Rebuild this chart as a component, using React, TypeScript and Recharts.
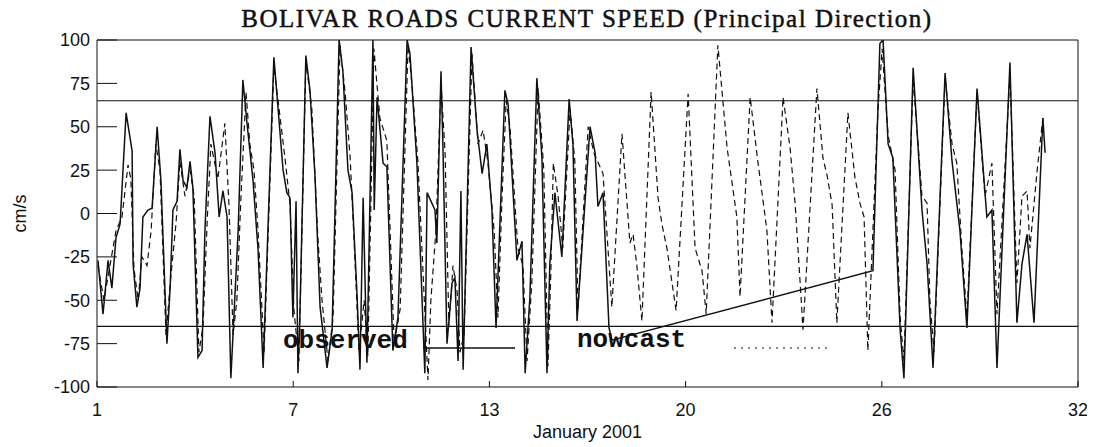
import React from 'react';
import { LineChart, Line, XAxis, YAxis, ReferenceLine, Legend } from 'recharts';

// day of January 2001 (fractional), current speed in cm/s
const observed: [number, number][] = [
  [1.03, -27], [1.19, -58], [1.35, -27], [1.47, -43], [1.6, -14], [1.73, -6], [1.92, 58], [2.11, 36],
  [2.14, -29], [2.26, -54], [2.36, -43], [2.45, -2], [2.61, 2], [2.74, 3], [2.9, 50], [3.02, 19],
  [3.21, -75], [3.31, -43], [3.4, 2], [3.53, 7], [3.62, 37], [3.72, 19], [3.84, 15], [3.94, 30],
  [4.03, 15], [4.19, -83], [4.32, -79], [4.41, -10], [4.57, 56], [4.73, 35], [4.86, -2], [4.98, 13],
  [5.11, -2], [5.23, -95], [5.33, -58], [5.46, -10], [5.61, 77], [5.74, 52], [5.93, 19], [6.09, -21],
  [6.25, -89], [6.59, 90], [6.88, 25], [7.0, 12], [7.1, 9], [7.19, -60], [7.29, 7], [7.35, -92],
  [7.41, -60], [7.6, 91], [7.73, 71], [7.89, 21], [8.05, -54], [8.27, -89], [8.43, -67], [8.65, 100],
  [8.77, 82], [8.93, 25], [9.06, 12], [9.22, -48], [9.31, -90], [9.41, 9], [9.53, -86], [9.72, 100],
  [9.76, 2], [9.85, 67], [10.04, 29], [10.16, 27], [10.35, -79], [10.51, -60], [10.8, 100], [10.89, 92],
  [11.11, 29], [11.36, -92], [11.43, 12], [11.68, 2], [11.74, -17], [11.87, 82], [11.93, 40], [12.06, -75],
  [12.22, -40], [12.31, -37], [12.41, -85], [12.5, 13], [12.57, -90], [12.82, 96], [13.01, 48], [13.17, 23],
  [13.32, 40], [13.48, 2], [13.61, -66], [13.74, -2], [13.89, 71], [13.99, 63], [14.27, -27], [14.43, -16],
  [14.53, -92], [14.68, -48], [14.9, 78], [15.06, 32], [15.22, -92], [15.31, -29], [15.47, 12], [15.69, -25],
  [15.92, 66], [16.04, 40], [16.17, -62], [16.58, 50], [16.74, 35], [16.83, 4], [16.99, 12], [17.18, -66],
  [17.27, -73], [25.52, -33], [25.74, 98], [25.84, 100], [26.0, 40], [26.15, 32], [26.38, -67], [26.5, -95],
  [26.79, 84], [27.07, 2], [27.23, -29], [27.42, -89], [27.8, 81], [28.02, 30], [28.27, -10], [28.49, -66],
  [28.81, 72], [29.12, -2], [29.28, 2], [29.44, -89], [29.85, 87], [30.07, -63], [30.23, -29], [30.39, -12],
  [30.61, -63], [30.89, 55], [30.96, 35],
];

const nowcast: [number, number][] = [
  [1.03, -30], [1.22, -50], [1.41, -30], [1.6, -10], [1.79, -2], [1.98, 28], [2.07, 20], [2.17, -32],
  [2.3, -50], [2.42, -25], [2.58, -30], [2.71, -10], [2.86, 40], [2.99, 25], [3.18, -70], [3.34, -35],
  [3.5, -5], [3.62, 30], [3.78, 10], [3.94, 25], [4.07, 10], [4.22, -80], [4.35, -65], [4.48, -5],
  [4.6, 40], [4.82, 20], [5.04, 52], [5.17, 5], [5.3, -70], [5.42, -50], [5.55, 10], [5.71, 70],
  [5.83, 40], [5.96, 25], [6.09, -10], [6.28, -80], [6.59, 85], [6.94, 32], [7.1, 5], [7.22, -55],
  [7.38, -85], [7.6, 88], [7.79, 60], [7.98, -14], [8.11, -50], [8.3, -85], [8.46, -60], [8.68, 97],
  [8.84, 70], [9.0, 32], [9.12, -14], [9.28, -80], [9.44, -50], [9.56, -82], [9.75, 95], [9.94, 55],
  [10.16, 42], [10.39, -75], [10.58, -55], [10.83, 97], [10.95, 75], [11.14, 30], [11.46, -96], [11.55, -50],
  [11.71, -10], [11.87, 75], [12.0, 35], [12.12, -65], [12.25, -30], [12.38, -45], [12.47, -80], [12.6, -70],
  [12.85, 92], [13.04, 40], [13.2, 48], [13.35, 30], [13.55, -10], [13.67, -60], [13.8, 10], [13.93, 65],
  [14.05, 50], [14.3, -20], [14.46, -30], [14.59, -85], [14.74, -40], [14.94, 72], [15.12, 25], [15.25, -88],
  [15.34, -35], [15.42, 29], [15.57, 10], [15.72, -20], [15.95, 60], [16.1, 30], [16.2, -55], [16.52, 50],
  [16.7, 35], [16.99, 23], [17.27, -54], [17.59, 46], [17.84, -17], [17.94, -12], [18.06, -30], [18.22, -62],
  [18.51, 70], [18.73, 9], [18.85, -6], [19.01, -20], [19.3, -56], [19.68, 69], [19.9, -20], [20.12, -33],
  [20.25, -58], [20.62, 97], [20.91, 38], [21.22, -2], [21.32, -48], [21.64, 67], [21.89, 29], [22.05, 7],
  [22.17, -10], [22.33, -63], [22.68, 67], [22.9, 38], [23.06, 6], [23.22, -40], [23.31, -67], [23.75, 72],
  [23.94, 32], [24.07, 22], [24.23, 5], [24.38, -63], [24.73, 58], [24.95, 21], [25.11, 6], [25.24, -2],
  [25.36, -79], [25.68, 60], [25.81, 95], [26.0, 45], [26.22, 25], [26.38, -60], [26.5, -85], [26.79, 78],
  [27.07, 10], [27.23, 6], [27.32, -50], [27.45, -80], [27.8, 78], [28.02, 40], [28.17, 29], [28.33, -20],
  [28.49, -60], [28.81, 70], [29.06, 10], [29.28, 29], [29.44, -58], [29.85, 80], [30.07, -40], [30.23, 10],
  [30.39, 13], [30.48, -20], [30.71, 25], [30.89, 55],
];

const dayTicks = [1, 7.2, 13.4, 19.6, 25.8, 32];
const speedTicks = [-100, -75, -50, -25, 0, 25, 50, 75, 100];
const innerTicks = [-75, -50, -25, 0, 25, 50, 75];
const limits = [65, -65];

const obsData = observed.map(([day, v]) => ({ day, v }));
const nowData = nowcast.map(([day, v]) => ({ day, v }));

const INK = '#111';
const sans = '"Liberation Sans", Arial, sans-serif';
const mono = '"Liberation Mono", "Courier New", monospace';
const serif = '"Liberation Serif", "Times New Roman", serif';

function LegendBox() {
  return (
    <svg width={560} height={30} style={{ overflow: 'visible' }}>
      <text x={0} y={18} fontFamily={mono} fontWeight="bold" fontSize={26} fill={INK}>observed</text>
      <line x1={140} x2={232} y1={18} y2={18} stroke={INK} strokeWidth={1.5} />
      <text x={294} y={17} fontFamily={mono} fontWeight="bold" fontSize={26} fill={INK}>nowcast</text>
      <line x1={451} x2={547} y1={18} y2={18} stroke={INK} strokeWidth={1} strokeDasharray="2 5" />
    </svg>
  );
}

export default function App() {
  return (
    <div style={{ position: 'relative', width: 1080, height: 439, background: '#fff' }}>
      <div
        style={{
          position: 'absolute', left: 79, top: -2, width: 1000, textAlign: 'center',
          fontFamily: serif, fontSize: 25, lineHeight: '25px', letterSpacing: '1.5px',
          color: INK, WebkitTextStroke: '0.5px #111', whiteSpace: 'nowrap',
        }}
      >
        BOLIVAR ROADS CURRENT SPEED (Principal Direction)
      </div>
      <LineChart width={1080} height={439} margin={{ top: 31, right: 9, bottom: 0, left: 0 }}>
        <XAxis
          xAxisId="b"
          dataKey="day"
          type="number"
          domain={[1, 32]}
          ticks={dayTicks}
          tickFormatter={(d: number) => String(Math.round(d))}
          allowDataOverflow
          height={60}
          tickSize={-6}
          tickMargin={22}
          stroke={INK}
          tick={{ fill: INK, fontSize: 18, fontFamily: sans }}
          label={{ value: 'January 2001', position: 'insideBottom', offset: 9, fill: INK, fontSize: 18, fontFamily: sans }}
        />
        <XAxis
          xAxisId="t"
          orientation="top"
          dataKey="day"
          type="number"
          domain={[1, 32]}
          ticks={dayTicks}
          allowDataOverflow
          height={1}
          tickSize={-6}
          tick={false}
          stroke={INK}
        />
        <YAxis
          yAxisId="l"
          type="number"
          domain={[-100, 100]}
          ticks={speedTicks}
          allowDataOverflow
          width={89}
          tickSize={-20}
          tickMargin={27}
          stroke={INK}
          tick={{ fill: INK, fontSize: 18, fontFamily: sans }}
          label={{ value: 'cm/s', angle: -90, position: 'insideLeft', offset: 12, fill: INK, fontSize: 18, fontFamily: sans, style: { textAnchor: 'middle' } }}
        />
        <YAxis
          yAxisId="r"
          orientation="right"
          type="number"
          domain={[-100, 100]}
          ticks={innerTicks}
          allowDataOverflow
          width={1}
          tickSize={-18}
          tick={false}
          stroke={INK}
        />
        {limits.map((y) => (
          <ReferenceLine key={y} y={y} xAxisId="b" yAxisId="l" stroke={INK} strokeWidth={1.2} />
        ))}
        <Line
          data={nowData}
          xAxisId="b"
          yAxisId="l"
          dataKey="v"
          type="linear"
          stroke={INK}
          strokeWidth={1.2}
          strokeDasharray="6 4"
          dot={false}
          isAnimationActive={false}
        />
        <Line
          data={obsData}
          xAxisId="b"
          yAxisId="l"
          dataKey="v"
          type="linear"
          stroke={INK}
          strokeWidth={1.5}
          dot={false}
          isAnimationActive={false}
        />
        <Legend
          layout="horizontal"
          verticalAlign="middle"
          content={() => <LegendBox />}
          wrapperStyle={{ left: 275, top: 322, width: 560, height: 30 }}
        />
      </LineChart>
    </div>
  );
}
